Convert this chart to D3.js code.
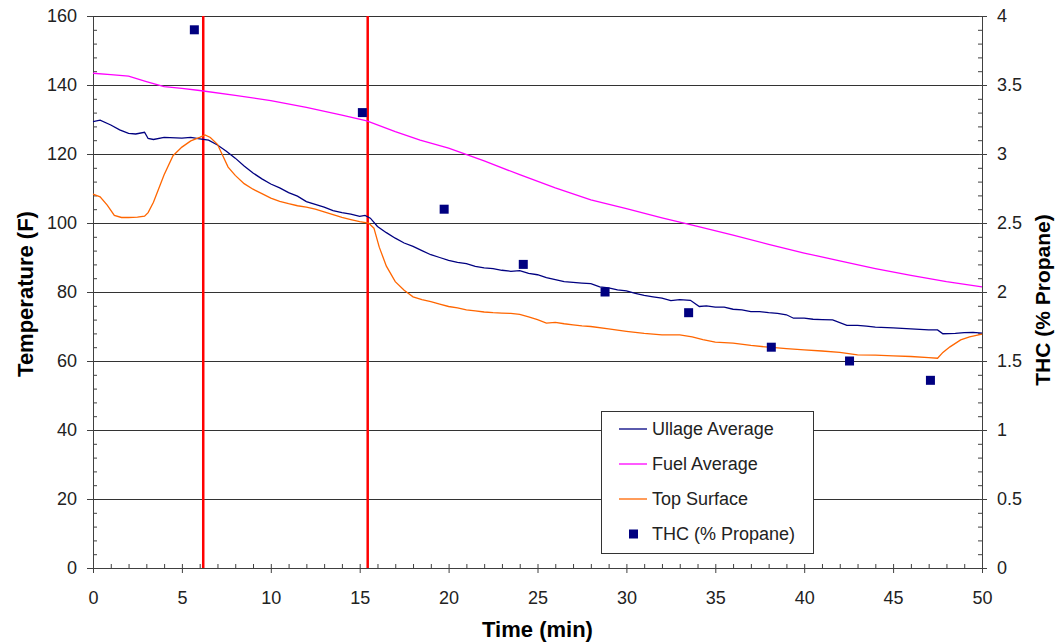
<!DOCTYPE html>
<html lang="en">
<head>
  <meta charset="UTF-8">
  <title>Ullage / Fuel Temperature and THC</title>
  <script src="https://d3js.org/d3.v7.min.js"></script>
  <style>
    body { margin: 0; background: #fff; }
    svg { display: block; font-family: "Liberation Sans", Arial, sans-serif; }
    .tick text { font-size: 18px; fill: #222; }
    .axis path, .axis line { stroke: #404040; }
  </style>
</head>
<body>
  <svg width="1056" height="643"></svg>

  <script>
    // time (min), temperature (F)
    const ullageTime = [0, 0.4, 1.0, 1.5, 2.0, 2.4, 2.9, 3.1, 3.4, 4, 5, 5.5, 6.0, 6.5, 7.0, 7.5, 8, 8.5, 9, 9.5,
      10, 10.5, 11, 11.5, 12, 12.5, 13, 13.5, 14, 14.5, 15, 15.3, 15.6, 16, 16.5, 17, 17.5, 18, 18.5, 19, 19.5,
      20, 20.5, 21, 21.5, 22, 22.5, 23, 23.5, 24, 24.5, 25, 25.5, 26, 26.5, 27, 27.5, 28, 28.5, 29, 29.5,
      30, 30.5, 31, 31.5, 32, 32.5, 33, 33.6, 34.1, 34.5, 35, 35.5, 36, 36.5, 37, 37.5, 38, 38.5, 39, 39.4,
      40, 40.5, 41, 41.6, 42.4, 43, 43.5, 44, 45, 46, 47, 47.5, 47.8, 48.5, 49, 49.5, 50];
    const ullageTemp = [129.4, 129.8, 128.4, 127, 126, 125.8, 126.3, 124.5, 124.2, 124.8, 124.6, 124.8, 124.4, 124, 122.6, 120.8, 118.8, 116.5, 114.5, 112.8,
      111.3, 110.2, 108.8, 107.8, 106.2, 105.4, 104.6, 103.6, 103, 102.6, 101.9, 102.2, 101.4, 99, 97.2, 95.6, 94.2, 93.2, 92, 90.8, 90,
      89.2, 88.6, 88.2, 87.4, 87, 86.8, 86.3, 86, 86.2, 85.4, 85, 84.2, 83.6, 83, 82.8, 82.6, 82.4, 81.5, 81.2, 80.6,
      80.3, 79.6, 79.0, 78.6, 78.2, 77.5, 77.8, 77.6, 75.8, 76, 75.6, 75.6, 75, 74.8, 74.3, 74.3, 74.0, 73.8, 73.4, 72.4,
      72.4, 72.1, 72, 71.9, 70.3, 70.3, 70.1, 69.8, 69.6, 69.3, 69.0, 69.0, 67.9, 68.0, 68.2, 68.3, 68.1];

    const fuelTime = [0, 1, 2, 3, 4, 5, 6, 8, 10, 12, 14, 15.4, 17, 18.4, 20, 22, 24, 26, 28, 30,
      32, 34, 36, 38, 40, 42, 44, 46, 48, 50];
    const fuelTemp = [143.4, 143, 142.6, 141, 139.5, 139, 138.4, 137, 135.5, 133.5, 131.3, 129.6, 126.5, 124, 121.7, 118, 114, 110.2, 106.7, 104.2,
      101.5, 99, 96.5, 93.8, 91.3, 89, 86.8, 84.8, 83, 81.5];

    const topTime = [0, 0.4, 0.8, 1.2, 1.6, 2, 2.5, 2.9, 3.1, 3.4, 3.7, 4, 4.5, 5, 5.5, 6, 6.3, 6.6, 7, 7.3, 7.6, 8, 8.5, 9, 9.5,
      10, 10.5, 11, 11.5, 12, 12.5, 13, 13.5, 14, 14.5, 15, 15.5, 15.8, 16.1, 16.5, 17, 17.5, 18, 18.5, 19, 19.5,
      20, 20.5, 21, 21.5, 22, 22.5, 23, 23.5, 24, 24.5, 25, 25.5, 26, 26.5, 27, 27.5, 28, 29, 30, 31, 32, 33, 33.7, 34.3,
      35, 36, 37, 38, 39, 40, 41, 42, 43, 44, 45, 46, 47, 47.5, 47.8, 48.2, 48.8, 49.3, 50];
    const topTemp = [108.4, 107.6, 105.2, 102.2, 101.6, 101.6, 101.7, 102, 103, 106, 110, 114, 119.5, 122, 123.8, 124.8, 125.5, 124.8, 122.8, 119.5, 116.2, 113.8, 111.4, 109.8, 108.5,
      107.2, 106.3, 105.6, 105, 104.6, 104, 103.2, 102.4, 101.6, 101, 100.4, 100, 98.5, 93, 87.5, 83, 80.5, 78.6, 77.8, 77.2, 76.5,
      75.8, 75.4, 74.8, 74.5, 74.2, 74.0, 73.9, 73.8, 73.5, 72.8, 72.0, 71.0, 71.2, 70.8, 70.5, 70.2, 70.0, 69.3, 68.6, 68.0, 67.6, 67.6, 67, 66.2,
      65.5, 65.2, 64.5, 64.0, 63.6, 63.2, 62.9, 62.5, 61.8, 61.7, 61.5, 61.3, 61.0, 60.8, 62.5, 64.1, 66.1, 67, 67.8];

    // THC samples, right axis
    const thcTime = [5.7, 15.15, 19.75, 24.2, 28.8, 33.5, 38.15, 42.55, 47.1];
    const thcValue = [3.9, 3.3, 2.6, 2.2, 2.0, 1.85, 1.6, 1.5, 1.36];

    const eventTimes = [6.2, 15.45];

    const leftTicks = d3.range(0, 161, 20);
    const rightTicks = d3.range(0, 4.01, 0.5);
    const timeTicks = d3.range(0, 51, 5);

    const svg = d3.select("svg");
    const margin = { top: 16, right: 74, bottom: 75, left: 93 };
    const width = 1056 - margin.left - margin.right;
    const height = 643 - margin.top - margin.bottom;

    const x = d3.scaleLinear().domain([0, 50]).range([margin.left, margin.left + width]);
    const yL = d3.scaleLinear().domain([0, 160]).range([margin.top + height, margin.top]);
    const yR = d3.scaleLinear().domain([0, 4]).range([margin.top + height, margin.top]);

    // horizontal gridlines
    svg.append("g").selectAll("line")
      .data(leftTicks.filter(d => d > 0))
      .join("line")
      .attr("x1", x(0)).attr("x2", x(50))
      .attr("y1", d => yL(d)).attr("y2", d => yL(d))
      .attr("stroke", "#333").attr("stroke-width", 1).attr("shape-rendering", "crispEdges");

    // minor ticks (inside)
    const minorL = d3.range(0, 161, 4).filter(d => d % 20 !== 0);
    const minorR = d3.range(0, 41, 1).filter(d => d % 5 !== 0).map(d => d / 10);
    const minorX = d3.range(0, 51, 1).filter(d => d % 5 !== 0);

    svg.append("g").attr("class", "axis")
      .attr("transform", `translate(${x(0)},0)`)
      .call(d3.axisRight(yL).tickValues(minorL).tickSize(4).tickFormat("").tickSizeOuter(0))
      .call(g => g.select(".domain").remove());
    svg.append("g").attr("class", "axis")
      .attr("transform", `translate(${x(50)},0)`)
      .call(d3.axisLeft(yR).tickValues(minorR).tickSize(4).tickFormat("").tickSizeOuter(0))
      .call(g => g.select(".domain").remove());
    svg.append("g").attr("class", "axis")
      .attr("transform", `translate(0,${yL(0)})`)
      .call(d3.axisTop(x).tickValues(minorX).tickSize(4).tickFormat("").tickSizeOuter(0))
      .call(g => g.select(".domain").remove());

    // major axes
    svg.append("g").attr("class", "axis")
      .attr("transform", `translate(${x(0)},0)`)
      .call(d3.axisLeft(yL).tickValues(leftTicks).tickSize(6).tickPadding(10).tickSizeOuter(0));
    svg.append("g").attr("class", "axis")
      .attr("transform", `translate(${x(50)},0)`)
      .call(d3.axisRight(yR).tickValues(rightTicks).tickSize(5).tickPadding(10).tickSizeOuter(0)
        .tickFormat(d => d3.format("~g")(d)))
      .call(g => g.selectAll(".tick line").attr("x1", -3));
    svg.append("g").attr("class", "axis")
      .attr("transform", `translate(0,${yL(0)})`)
      .call(d3.axisBottom(x).tickValues(timeTicks).tickSize(5).tickPadding(18).tickSizeOuter(0))
      .call(g => g.selectAll(".tick line").attr("y1", -4));

    // event markers
    svg.append("g").selectAll("line")
      .data(eventTimes)
      .join("line")
      .attr("x1", d => x(d)).attr("x2", d => x(d))
      .attr("y1", yL(160)).attr("y2", yL(0))
      .attr("stroke", "#ff0000").attr("stroke-width", 2.5);

    const series = [
      { name: "Ullage Average", color: "#000080", t: ullageTime, v: ullageTemp },
      { name: "Fuel Average", color: "#ff00ff", t: fuelTime, v: fuelTemp },
      { name: "Top Surface", color: "#ff6600", t: topTime, v: topTemp }
    ];

    const line = d3.line().x(d => x(d[0])).y(d => yL(d[1]));
    series.forEach(s => {
      svg.append("path")
        .datum(s.t.map((t, i) => [t, s.v[i]]))
        .attr("fill", "none")
        .attr("stroke", s.color)
        .attr("stroke-width", 1.3)
        .attr("d", line);
    });

    // THC squares
    const sq = 9;
    svg.append("g").selectAll("rect")
      .data(thcTime.map((t, i) => [t, thcValue[i]]))
      .join("rect")
      .attr("x", d => x(d[0]) - sq / 2)
      .attr("y", d => yR(d[1]) - sq / 2)
      .attr("width", sq).attr("height", sq)
      .attr("fill", "#000080");

    // axis titles
    svg.append("text")
      .attr("transform", `translate(33,${yL(80) + 2}) rotate(-90)`)
      .attr("text-anchor", "middle")
      .attr("font-size", 22).attr("font-weight", "bold")
      .text("Temperature (F)");
    svg.append("text")
      .attr("transform", `translate(1050,${yL(80) + 8}) rotate(-90)`)
      .attr("text-anchor", "middle")
      .attr("font-size", 21).attr("font-weight", "bold")
      .text("THC (% Propane)");
    svg.append("text")
      .attr("x", x(25)).attr("y", 637)
      .attr("text-anchor", "middle")
      .attr("font-size", 22).attr("font-weight", "bold")
      .text("Time (min)");

    // legend
    const legend = svg.append("g").attr("transform", "translate(601,411)");
    legend.append("rect")
      .attr("width", 212).attr("height", 142)
      .attr("fill", "#fff").attr("stroke", "#333").attr("stroke-width", 1)
      .attr("shape-rendering", "crispEdges");
    const items = series.map(s => ({ name: s.name, color: s.color, kind: "line" }))
      .concat([{ name: "THC (% Propane)", color: "#000080", kind: "square" }]);
    items.forEach((it, i) => {
      const cy = 18 + i * 35;
      if (it.kind === "line") {
        legend.append("line")
          .attr("x1", 18).attr("x2", 46).attr("y1", cy).attr("y2", cy)
          .attr("stroke", it.color).attr("stroke-width", 1.3);
      } else {
        legend.append("rect")
          .attr("x", 28).attr("y", cy - 4.5).attr("width", sq).attr("height", sq)
          .attr("fill", it.color);
      }
      legend.append("text")
        .attr("x", 51).attr("y", cy + 6)
        .attr("font-size", 18).attr("fill", "#222")
        .text(it.name);
    });
  </script>
</body>
</html>
